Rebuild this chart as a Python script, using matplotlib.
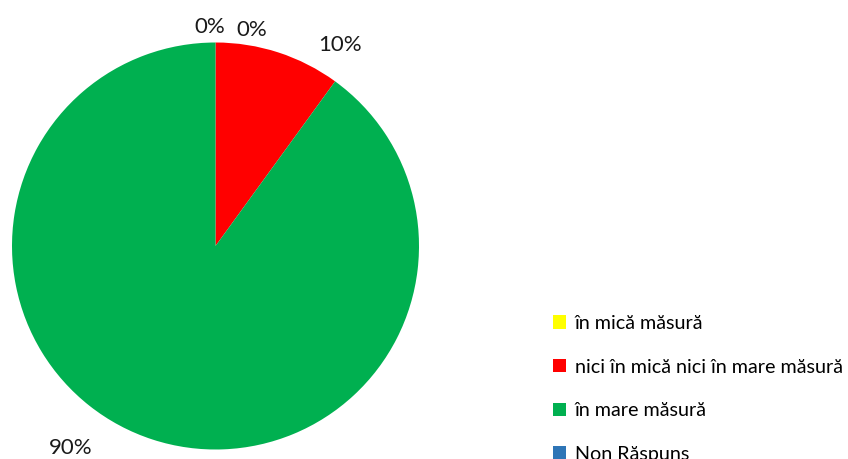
import numpy as np
import matplotlib
matplotlib.use("Agg")
import matplotlib.pyplot as plt

categories = ["în mică măsură", "nici în mică nici în mare măsură", "în mare măsură", "Non Răspuns"]
values = [0, 10, 90, 0]
pct_labels = ["0%", "10%", "90%", "0%"]
colors = ["#FFFF00", "#FF0000", "#00B050", "#2E75B6"]

plt.rcParams['font.family'] = ['Lato', 'DejaVu Sans']

fig = plt.figure(figsize=(8.48, 4.59), dpi=100)
ax = fig.add_axes([12 / 848, 9.5 / 459, 407 / 848, 407 / 459])
wedges, _ = ax.pie(values, colors=colors, startangle=90, counterclock=False,
                   radius=1, wedgeprops=dict(linewidth=0))
ax.set_xlim(-1, 1)
ax.set_ylim(-1, 1)
ax.set_aspect('equal')
ax.axis('off')

# label placement: (angle shift in degrees, distance from center)
label_layout = [(1.4, 1.075), (-13.7, 1.16), (-17.7, 1.22), (-9.6, 1.075)]
for w, txt, (shift, dist) in zip(wedges, pct_labels, label_layout):
    mid = (w.theta1 + w.theta2) / 2 + shift
    x = dist * np.cos(np.radians(mid))
    y = dist * np.sin(np.radians(mid))
    ax.text(x, y, txt, ha='center', va='center', fontsize=16, color='#1a1a1a', clip_on=False)

handles = [plt.Rectangle((0, 0), 1, 1, facecolor=c, edgecolor='none') for c in colors]
fig.legend(handles, categories, loc='upper left', bbox_to_anchor=(545 / 848, 1 - 307 / 459),
           frameon=False, fontsize=14.2, handlelength=0.65, handleheight=0.65,
           handletextpad=0.45, labelspacing=1.35, borderaxespad=0)

fig.savefig("out.png", dpi=100)
